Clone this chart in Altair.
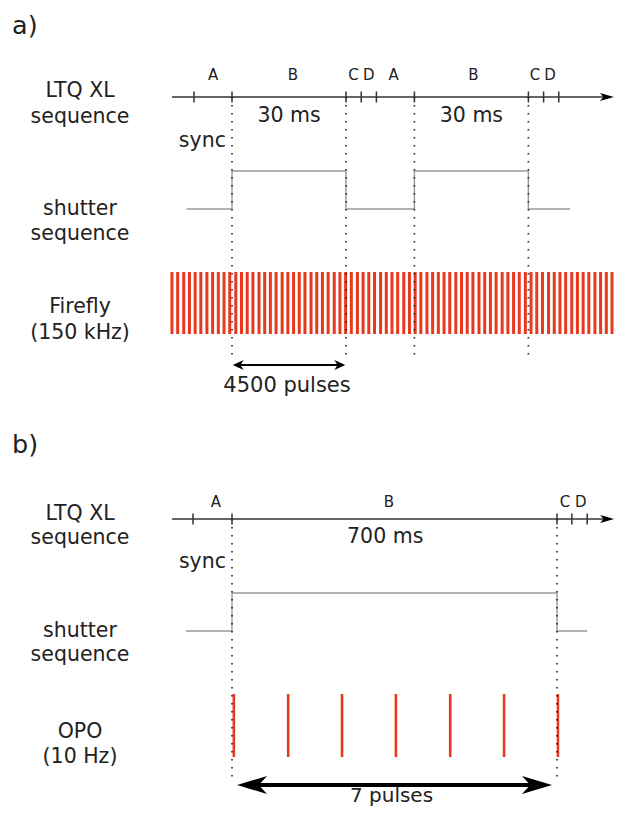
import altair as alt
import pandas as pd

# ---------------- data (times in ms, as drawn) ----------------
# panel a) : 30 ms scans, Firefly laser 150 kHz
a_tick_t = [-10, 0, 30, 34, 38, 48, 78, 82, 86]
a_seg_name = ["A", "B", "C", "D", "A", "B", "C", "D"]
a_seg_t = [-5, 16, 32, 36, 42.5, 63.5, 79.7, 83.7]
a_dur_label = ["30 ms", "30 ms"]
a_dur_t = [15, 63]
a_guide_t = [0, 30, 48, 78]
a_shutter_t = [-12, 0, 30, 48, 78, 89]
a_shutter_state = [0, 1, 0, 1, 0, 0]
a_pulse_t = [-15.8, -14.3, -12.7, -11.2, -9.7, -8.2, -6.6, -5.1, -3.6, -2.1,
             -0.6, 1.0, 2.5, 4.0, 5.5, 7.1, 8.6, 10.1, 11.6, 13.2,
             14.7, 16.2, 17.7, 19.2, 20.8, 22.3, 23.8, 25.3, 26.9, 28.4,
             29.9, 31.4, 33.0, 34.5, 36.0, 37.5, 39.1, 40.6, 42.1, 43.6,
             45.2, 46.7, 48.2, 49.7, 51.3, 52.8, 54.3, 55.8, 57.3, 58.9,
             60.4, 61.9, 63.4, 65.0, 66.5, 68.0, 69.5, 71.1, 72.6, 74.1,
             75.6, 77.2, 78.7, 80.2, 81.7, 83.3, 84.8, 86.3, 87.8, 89.4,
             90.9, 92.4, 93.9, 95.5, 97.0, 98.5, 100.0]
a_span_t = [0, 30]
a_span_label = "4500 pulses"
a_sync_t = -1.6
a_axis_t = [-15.8, 100.5]

# panel b) : 700 ms scan, OPO laser 10 Hz
b_tick_t = [-84, 0, 700, 732, 765]
b_seg_name = ["A", "B", "C", "D"]
b_seg_t = [-35, 338, 717, 751]
b_dur_label = ["700 ms"]
b_dur_t = [330]
b_guide_t = [0, 700]
b_shutter_t = [-99, 0, 700, 765]
b_shutter_state = [0, 1, 0, 0]
b_pulse_t = [4, 121, 237, 353, 470, 586, 702]
b_span_t = [0, 700]
b_span_label = "7 pulses"
b_sync_t = -13
b_axis_t = [-129, 823]

row_labels_a = ["LTQ XL", "sequence", "shutter", "sequence", "Firefly", "(150 kHz)"]
row_labels_b = ["LTQ XL", "sequence", "shutter", "sequence", "OPO", "(10 Hz)"]
panel_tags = ["a)", "b)"]

# ---------------- layout ----------------
W, H = 607, 798
OFF = 8
FONT = "DejaVu Sans"
TXT = "#222222"
LINE = "#333333"
GRAY = "#9a9a9a"
RED = "#e8391f"

A_X0, A_PX = 232, 3.8
B_X0, B_PX = 232, 325 / 700


def dom(x0, px):
    return [(OFF - x0) / px, (OFF + W - x0) / px]


XS_A = alt.Scale(domain=dom(A_X0, A_PX), nice=False, zero=False)
XS_B = alt.Scale(domain=dom(B_X0, B_PX), nice=False, zero=False)
YS = alt.Scale(domain=[OFF, OFF + H], reverse=True, nice=False, zero=False)


def xenc(field, xs):
    return alt.X(f"{field}:Q", scale=xs, axis=None)


def yenc(field):
    return alt.Y(f"{field}:Q", scale=YS, axis=None)


def hrule(df, xs, color, width):
    return alt.Chart(df).mark_rule(color=color, strokeWidth=width, strokeCap="butt").encode(
        x=xenc("t0", xs), x2="t1:Q", y=yenc("y"))


def vrule(df, xs, color, width, dash=None):
    kw = dict(color=color, strokeWidth=width, strokeCap="butt")
    if dash:
        kw["strokeDash"] = dash
    return alt.Chart(df).mark_rule(**kw).encode(
        x=xenc("t", xs), y=yenc("y0"), y2="y1:Q")


def text(df, xs, size, align, xpix=None):
    m = alt.Chart(df).mark_text(font=FONT, fontSize=size, align=align,
                                baseline="alphabetic", color=TXT)
    if xs is None:
        return m.encode(x=alt.value(xpix - OFF), y=yenc("y"), text="label:N")
    return m.encode(x=xenc("t", xs), y=yenc("y"), text="label:N")


def head(df, xs, path, size):
    return alt.Chart(df).mark_point(shape=path, filled=True, color="black", opacity=1,
                                    strokeWidth=0, size=size).encode(
        x=xenc("t", xs), y=yenc("y"))


def head_paths(length, half_h, notch):
    h = half_h / (length / 2)
    r = f"M0,0 L-2,-{h:.3f} L-{notch},0 L-2,{h:.3f} Z"
    l = f"M0,0 L2,-{h:.3f} L{notch},0 L2,{h:.3f} Z"
    return r, l, length * length


def panel(xs, px, p):
    L = []
    # timeline axis with arrow
    ax_r, _, ax_size = head_paths(14, 4, 1.5)
    L.append(hrule(pd.DataFrame({"t0": [p["axis_t"][0]], "t1": [p["axis_t"][1] - 7 / px],
                                 "y": [p["axis_y"]]}), xs, LINE, 1.5))
    L.append(head(pd.DataFrame({"t": [p["axis_t"][1]], "y": [p["axis_y"]]}), xs, ax_r, ax_size))
    L.append(vrule(pd.DataFrame({"t": p["tick_t"], "y0": p["axis_y"] - 5.5,
                                 "y1": p["axis_y"] + 5.5}), xs, LINE, 1.5))
    L.append(text(pd.DataFrame({"t": p["seg_t"], "label": p["seg_name"], "y": p["seg_y"]}),
                  xs, 15, "center"))
    L.append(text(pd.DataFrame({"t": p["dur_t"], "label": p["dur_label"], "y": p["dur_y"]}),
                  xs, 20.5, "center"))
    L.append(text(pd.DataFrame({"t": [p["sync_t"]], "label": ["sync"], "y": [p["sync_y"]]}),
                  xs, 20.5, "right"))
    # shutter
    lo, hi = p["shut_y"]
    sh = pd.DataFrame({"t": p["shutter_t"],
                       "y": [lo - s * (lo - hi) for s in p["shutter_state"]]})
    L.append(alt.Chart(sh).mark_line(interpolate="step-after", color=GRAY, strokeWidth=1.4).encode(
        x=xenc("t", xs), y=yenc("y")))
    # laser pulses
    L.append(vrule(pd.DataFrame({"t": p["pulse_t"], "y0": p["pulse_y"][0],
                                 "y1": p["pulse_y"][1]}), xs, RED, p["pulse_w"]))
    # dotted guides
    L.append(vrule(pd.DataFrame({"t": p["guide_t"], "y0": p["axis_y"],
                                 "y1": p["guide_end"]}), xs, "#222222", 1.6, [1.6, 6.4]))
    # double arrow
    r, l, size = head_paths(p["head_len"], p["head_half"], p["notch"])
    t0 = p["span_t"][0] + p["tip_inset"] / px
    t1 = p["span_t"][1] - p["tip_inset"] / px
    inset = p["head_len"] * 0.6 / px
    L.append(hrule(pd.DataFrame({"t0": [t0 + inset], "t1": [t1 - inset], "y": [p["arrow_y"]]}),
                   xs, "black", p["shaft_w"]))
    L.append(head(pd.DataFrame({"t": [t0], "y": [p["arrow_y"]]}), xs, l, size))
    L.append(head(pd.DataFrame({"t": [t1], "y": [p["arrow_y"]]}), xs, r, size))
    L.append(text(pd.DataFrame({"t": [(p["span_t"][0] + p["span_t"][1]) / 2 + p["span_text_dx"] / px],
                                "label": [p["span_label"]], "y": [p["span_text_y"]]}),
                  xs, p["span_font"], "center"))
    # row labels and tag
    L.append(text(pd.DataFrame({"label": p["rows"], "y": p["rows_y"]}), None, 20.5, "center", 80))
    L.append(text(pd.DataFrame({"label": [p["tag"]], "y": [p["tag_y"]]}), None, 25.5, "left", 12))
    return L


pa = dict(axis_t=a_axis_t, axis_y=97, tick_t=a_tick_t, seg_t=a_seg_t, seg_name=a_seg_name,
          seg_y=80, dur_t=a_dur_t, dur_label=a_dur_label, dur_y=122, sync_t=a_sync_t, sync_y=147,
          shutter_t=a_shutter_t, shutter_state=a_shutter_state, shut_y=(209, 171),
          pulse_t=a_pulse_t, pulse_y=(272, 334), pulse_w=3,
          guide_t=a_guide_t, guide_end=357,
          span_t=a_span_t, tip_inset=0.7, head_len=11, head_half=5, notch=1.4, shaft_w=2,
          arrow_y=365, span_label=a_span_label, span_text_y=392, span_text_dx=-2, span_font=21,
          rows=row_labels_a, rows_y=[97, 123, 215, 240, 313, 339], tag=panel_tags[0], tag_y=34)

pb = dict(axis_t=b_axis_t, axis_y=519, tick_t=b_tick_t, seg_t=b_seg_t, seg_name=b_seg_name,
          seg_y=507, dur_t=b_dur_t, dur_label=b_dur_label, dur_y=543, sync_t=b_sync_t, sync_y=568,
          shutter_t=b_shutter_t, shutter_state=b_shutter_state, shut_y=(631, 593),
          pulse_t=b_pulse_t, pulse_y=(694, 757), pulse_w=2.6,
          guide_t=b_guide_t, guide_end=780,
          span_t=b_span_t, tip_inset=5, head_len=30, head_half=9, notch=1.45, shaft_w=4,
          arrow_y=785, span_label=b_span_label, span_text_y=801.5, span_text_dx=-3, span_font=20,
          rows=row_labels_b, rows_y=[520, 544, 637, 661, 738, 763], tag=panel_tags[1], tag_y=453)

layers = panel(XS_A, A_PX, pa) + panel(XS_B, B_PX, pb)

chart = alt.layer(*layers).resolve_scale(x="independent").properties(
    width=W, height=H, padding=0, background="white",
    autosize=alt.AutoSizeParams(type="none"),
).configure_view(stroke=None)

chart.save("out.html", embed_options={"renderer": "svg", "actions": False})
